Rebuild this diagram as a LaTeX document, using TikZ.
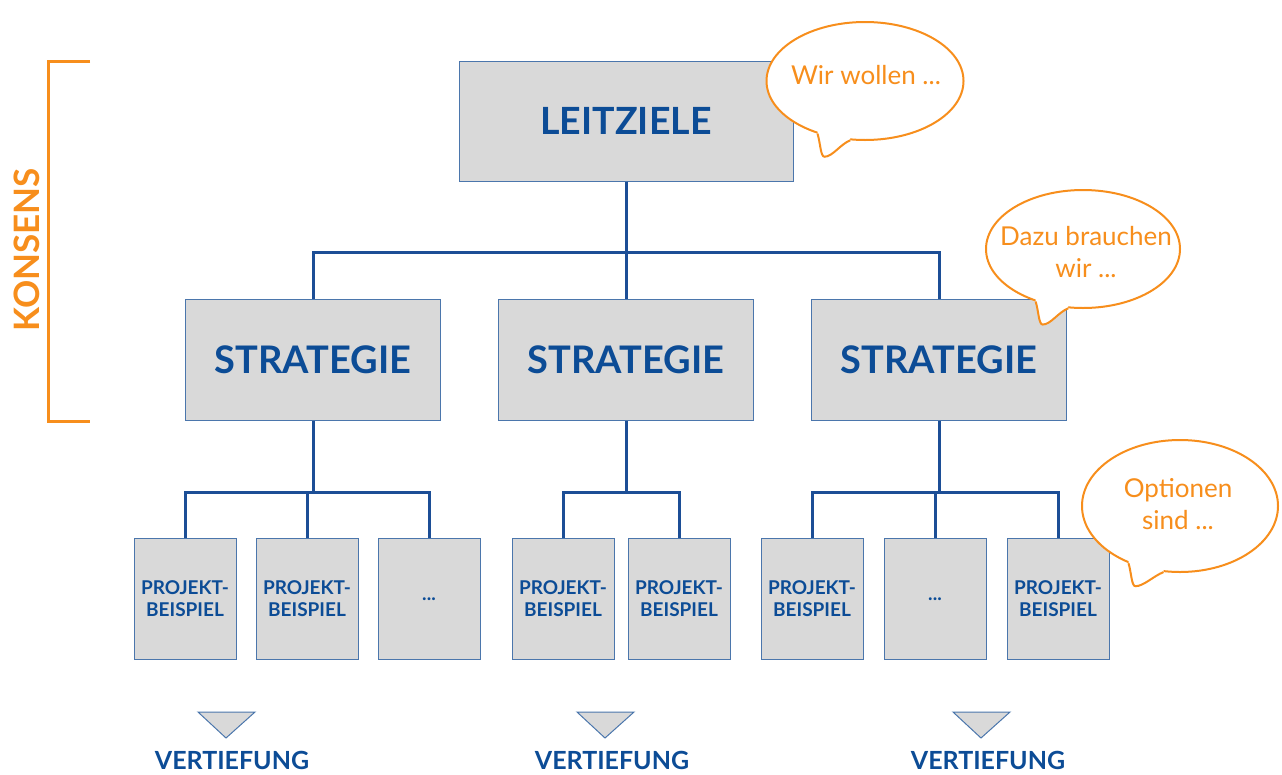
\documentclass[tikz,border=0pt]{standalone}
\usepackage{fontspec}
\setmainfont{Lato}
\usetikzlibrary{shapes.geometric}
\definecolor{darkblue}{RGB}{12,76,150}
\definecolor{lineblue}{RGB}{28,78,150}
\definecolor{boxline}{RGB}{75,118,172}
\definecolor{konsorange}{RGB}{247,142,28}
\definecolor{boxgray}{RGB}{217,217,217}
\begin{document}
\begin{tikzpicture}[
        x=1pt, y=1pt,
        level distance=239pt,
        level 1/.style={sibling distance=313pt},
        level 2/.style={sibling distance=122pt},
        edge from parent/.style={draw=lineblue, line width=3pt},
        edge from parent path={(\tikzparentnode.south) -- ++(0pt,-71pt) -| (\tikzchildnode.north)},
        box/.style={draw=boxline, line width=1pt, fill=boxgray, text=darkblue,
            inner sep=0pt, align=center},
        topbox/.style={box, minimum width=334pt, minimum height=120pt,
            font=\fontsize{37.5}{45}\selectfont\bfseries},
        stratbox/.style={box, minimum width=255pt, minimum height=121pt,
            font=\fontsize{38}{45}\selectfont\bfseries},
        projbox/.style={box, minimum width=102pt, minimum height=121pt,
            font=\fontsize{19}{22}\selectfont\bfseries},
        deep/.style={text=darkblue, font=\fontsize{25}{30}\selectfont\bfseries},
        tri/.style={draw=boxline, line width=1pt, fill=boxgray},
        bubble/.style={ellipse, draw=konsorange, line width=2pt, fill=white,
            inner sep=0pt},
        talktext/.style={text=konsorange, inner sep=0pt, align=center,
            font=\fontsize{26}{32}\selectfont},
        talk/.style={draw=konsorange, line width=2pt},
    ]
        \useasboundingbox (0,0) rectangle (1282,-774);

        % Konsens
        \draw[konsorange, line width=3pt] (90,-61) -- (48,-61) -- (48,-421) -- (90,-421);
        \node[rotate=90, text=konsorange, font=\fontsize{35}{40}\selectfont\bfseries]
            (konsens) at (27,-250) {KONSENS};

        \node[topbox] (ziel) at (626,-121) {LEITZIELE}
        child { node[stratbox] (s1) {STRATEGIE}
            child { node[projbox, xshift=-6pt] (p11) {PROJEKT-\\BEISPIEL} }
            child { node[projbox, xshift=-6pt] (p12) {PROJEKT-\\BEISPIEL} }
            child { node[projbox, xshift=-6pt] (p13) {...} }
        }
        child { node[stratbox] (s2) {STRATEGIE}
            child { node[projbox, xshift=-2pt] (p21) {PROJEKT-\\BEISPIEL} }
            child { node[projbox, xshift=-8pt] (p22) {PROJEKT-\\BEISPIEL} }
        }
        child { node[stratbox] (s3) {STRATEGIE}
            child { node[projbox, xshift=-5pt] (p31) {PROJEKT-\\BEISPIEL} }
            child { node[projbox, xshift=-4pt] (p32) {...} }
            child { node[projbox, xshift=-3pt] (p33) {PROJEKT-\\BEISPIEL} }
        };

        % Vertiefung
        \draw[tri] (198,-712) -- (255,-712) -- (226,-738) -- cycle;
        \draw[tri] (577,-712) -- (634,-712) -- (605,-738) -- cycle;
        \draw[tri] (953,-712) -- (1010,-712) -- (981,-738) -- cycle;
        \node[deep] (v1) at (232,-760) {VERTIEFUNG};
        \node[deep] (v2) at (612,-760) {VERTIEFUNG};
        \node[deep] (v3) at (988,-760) {VERTIEFUNG};

        % Sprechblasen
        \node[bubble, minimum width=197pt, minimum height=118pt] (b1) at (865,-81) {};
        \node[bubble, minimum width=194pt, minimum height=118pt] (b2) at (1083,-249) {};
        \node[bubble, minimum width=196pt, minimum height=132pt] (b3) at (1180,-506) {};
        \foreach \b in {b1,b2,b3} {
            \fill[white] (\b.228) .. controls +(3,-10) and +(-4,0) .. ++(7,-23)
                .. controls +(8,0) and +(-10,-4) .. (\b.256)
                -- ([yshift=5pt]\b.256) -- ([yshift=5pt]\b.228) -- cycle;
            \draw[talk] (\b.228) .. controls +(3,-10) and +(-4,0) .. ++(7,-23)
                .. controls +(8,0) and +(-10,-4) .. (\b.256);
        }
        \node[talktext] (t1) at (866,-75) {Wir wollen ...};
        \node[talktext] (t2) at (1086,-252) {Dazu brauchen\\wir ...};
        \node[talktext] (t3) at (1178,-504) {Optionen\\sind ...};
    \end{tikzpicture}
\end{document}
